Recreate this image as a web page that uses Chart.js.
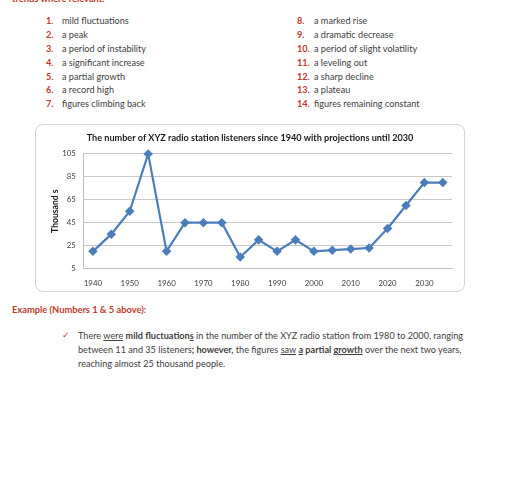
<!DOCTYPE html>
<html>
<head>
<meta charset="utf-8">
<script src="https://cdn.jsdelivr.net/npm/chart.js@4"></script>
<style>
  body { margin: 0; background: #fff; font-family: Lato, "Open Sans", sans-serif; color: #404040; }
  .page { position: relative; width: 512px; height: 479px; overflow: hidden; }
  .cut { position: absolute; left: 12px; top: -7px; font-size: 9.3px; font-weight: bold; color: #c0392b; }
  .list { position: absolute; top: 14px; font-size: 9.15px; }
  .list div { height: 13.9px; line-height: 13.9px; white-space: nowrap; }
  .list span { display: inline-block; color: #c0392b; font-weight: bold; text-align: left; }
  #left { left: 46px; }
  #left span { width: 16px; }
  #right { left: 297px; }
  #right span { width: 17px; }
  .box { position: absolute; left: 35px; top: 124px; width: 428px; height: 166px; border: 1px solid #d4d4d4; border-radius: 8px; }
  .box canvas { position: absolute; left: 0; top: 0; }
  .ex { position: absolute; left: 12px; top: 304px; font-size: 9.3px; font-weight: bold; color: #c0392b; }
  .chk { position: absolute; left: 62px; top: 329px; font-size: 9px; color: #c0392b; }
  .para { position: absolute; left: 78px; top: 329px; width: 420px; font-size: 9.15px; line-height: 13.9px; white-space: nowrap; }
</style>
</head>
<body>
<div class="page">
  <div class="cut">trends where relevant.</div>
  <div class="list" id="left"></div>
  <div class="list" id="right"></div>
  <div class="box"><canvas id="grafico" width="428" height="166"></canvas></div>
  <div class="ex">Example (Numbers 1 &amp; 5 above):</div>
  <div class="chk">&#10003;</div>
  <div class="para">There <u>were</u> <b>mild fluctuation<u>s</u></b> in the number of the XYZ radio station from 1980 to 2000, ranging<br>between 11 and 35 listeners<b>; however,</b> the figures <u>saw</u> <b><u>a</u> partial <u>growth</u></b> over the next two years,<br>reaching almost 25 thousand people.</div>
</div>
<script>
const termosEsquerda = ['mild fluctuations', 'a peak', 'a period of instability', 'a significant increase', 'a partial growth', 'a record high', 'figures climbing back']
const termosDireita = ['a marked rise', 'a dramatic decrease', 'a period of slight volatility', 'a leveling out', 'a sharp decline', 'a plateau', 'figures remaining constant']

const anos = [1940, 1945, 1950, 1955, 1960, 1965, 1970, 1975, 1980, 1985, 1990, 1995, 2000, 2005, 2010, 2015, 2020, 2025, 2030, 2035]
const ouvintes = [20, 35, 55, 105, 20, 45, 45, 45, 15, 30, 20, 30, 20, 21, 22, 23, 40, 60, 80, 80]
const ticksY = [5, 25, 45, 65, 85, 105]

const montarLista = (id, termos, inicio) => {
    const el = document.getElementById(id)
    termos.forEach((t, i) => {
        const linha = document.createElement('div')
        linha.innerHTML = '<span>' + (inicio + i) + '.</span>' + t
        el.appendChild(linha)
    })
}
montarLista('left', termosEsquerda, 1)
montarLista('right', termosDireita, 8)

const fonte = 'Lato, "Open Sans", sans-serif'
const ctx = document.querySelector('#grafico')

new Chart(ctx, {
    type: 'line',
    data: {
        labels: anos.map(String),
        datasets: [{
            data: ouvintes,
            borderColor: '#4a7ebb',
            backgroundColor: '#4a7ebb',
            borderWidth: 2.2,
            pointStyle: 'rectRot',
            pointRadius: 3.2,
            pointHoverRadius: 3.2,
            tension: 0,
            clip: false
        }]
    },
    options: {
        responsive: false,
        animation: false,
        layout: { padding: { left: 12, right: 12, top: 4, bottom: 1 } },
        plugins: {
            legend: { display: false },
            tooltip: { enabled: false },
            title: {
                display: true,
                text: 'The number of XYZ radio station listeners since 1940 with projections until 2030',
                color: '#1a1a1a',
                font: { family: fonte, size: 9.1, weight: 'bold' },
                padding: { top: 4, bottom: 10 }
            }
        },
        scales: {
            x: {
                offset: true,
                grid: { display: false },
                border: { color: '#bfbfbf' },
                ticks: {
                    autoSkip: false,
                    maxRotation: 0,
                    color: '#404040',
                    font: { family: fonte, size: 7.9 },
                    padding: 2,
                    callback: (v, i) => anos[i] % 10 === 0 ? anos[i] : ''
                }
            },
            y: {
                min: 5,
                max: 105,
                afterBuildTicks: (axis) => { axis.ticks = ticksY.map(v => ({ value: v })) },
                afterFit: (axis) => { axis.width = 35.7 },
                grid: { color: '#c8c8c8', drawTicks: false },
                border: { color: '#bfbfbf' },
                ticks: { color: '#404040', font: { family: fonte, size: 7.8 }, padding: 8 },
                title: {
                    display: true,
                    text: 'Thousand s',
                    color: '#1a1a1a',
                    font: { family: fonte, size: 8.6, weight: 'bold' },
                    padding: 2
                }
            }
        }
    }
})
</script>
</body>
</html>
